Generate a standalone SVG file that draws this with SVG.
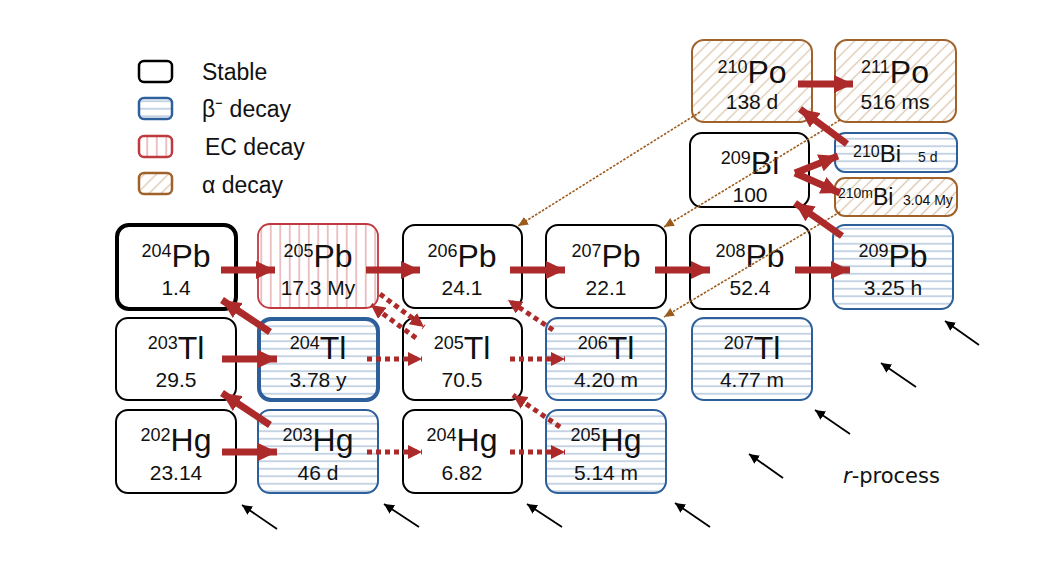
<svg xmlns="http://www.w3.org/2000/svg" width="1056" height="562" viewBox="0 0 1056 562">
<style>
text{font-family:"Liberation Sans",Arial,sans-serif;fill:#111;}
.m{font-size:32px;text-anchor:middle;}
.s{font-size:18px;}
.v{font-size:21px;text-anchor:middle;}
.lg{font-size:23px;}
.st{fill:#fff;stroke:#000;stroke-width:2;}
.bm{fill:url(#hb);stroke:#2d5f9a;stroke-width:2;}
.ec{fill:url(#hr);stroke:#c0393f;stroke-width:1.8;}
.al{fill:url(#ha);stroke:#a0622b;stroke-width:2;}
.ar{stroke:#ad2a2a;stroke-width:7;fill:none;marker-end:url(#mr);}
.dr{stroke:#ad2a2a;stroke-width:5;stroke-dasharray:5 4;fill:none;marker-end:url(#md);}
.br{stroke:#9c5a1c;stroke-width:1.6;stroke-dasharray:2.5 1.5;fill:none;marker-end:url(#mb);}
.rk{stroke:#000;stroke-width:1.8;fill:none;marker-end:url(#mk);}
</style>
<defs>
<pattern id="hb" patternUnits="userSpaceOnUse" width="20" height="7.5"><rect width="20" height="7.5" fill="#fff"/><line x1="0" y1="3.75" x2="20" y2="3.75" stroke="#a8bfd8" stroke-width="1.3"/></pattern>
<pattern id="hr" patternUnits="userSpaceOnUse" width="9.5" height="20"><rect width="9.5" height="20" fill="#fff"/><line x1="4.75" y1="0" x2="4.75" y2="20" stroke="#e3a0a7" stroke-width="1.3"/></pattern>
<pattern id="ha" patternUnits="userSpaceOnUse" width="8.5" height="20" patternTransform="rotate(45)"><rect width="8.5" height="20" fill="#fff"/><line x1="4.25" y1="0" x2="4.25" y2="20" stroke="#dcc6ae" stroke-width="1.3"/></pattern>
<marker id="mr" markerUnits="userSpaceOnUse" markerWidth="20" markerHeight="18" refX="19" refY="9" orient="auto"><path d="M0,0 L19,9 L0,18 z" fill="#ad2a2a"/></marker>
<marker id="md" markerUnits="userSpaceOnUse" markerWidth="15" markerHeight="14" refX="14" refY="7" orient="auto"><path d="M0,0 L14,7 L0,14 z" fill="#ad2a2a"/></marker>
<marker id="mb" markerUnits="userSpaceOnUse" markerWidth="11" markerHeight="9" refX="10" refY="4.5" orient="auto"><path d="M0,0 L10,4.5 L0,9 z" fill="#9c5a1c"/></marker>
<marker id="mk" markerUnits="userSpaceOnUse" markerWidth="11" markerHeight="10" refX="10" refY="5" orient="auto"><path d="M0,0 L10,5 L0,10 z" fill="#000"/></marker>
</defs>
<rect width="1056" height="562" fill="#fff"/>

<g id="legend">
<rect x="139" y="61" width="33" height="21" rx="5" fill="#fff" stroke="#000" stroke-width="2.5"/>
<rect x="139" y="98" width="33" height="21" rx="5" fill="url(#hb)" stroke="#2d5f9a" stroke-width="2.5"/>
<rect x="139" y="136" width="33" height="21" rx="5" fill="url(#hr)" stroke="#c0393f" stroke-width="2.5"/>
<rect x="139" y="173" width="33" height="21" rx="5" fill="url(#ha)" stroke="#a0622b" stroke-width="2.5"/>
<text class="lg" x="202" y="80">Stable</text>
<text class="lg" x="202" y="117">β⁻ decay</text>
<text class="lg" x="205" y="155">EC decay</text>
<text class="lg" x="202" y="193">α decay</text>
</g>

<g id="n-Po210"><rect class="al" x="692" y="40" width="120" height="82" rx="12"/><text class="m" x="752" y="83"><tspan class="s" dy="-10">210</tspan><tspan dy="10">Po</tspan></text><text class="v" x="752" y="109">138 d</text></g>
<g id="n-Po211"><rect class="al" x="835" y="40" width="121" height="82" rx="12"/><text class="m" x="895" y="83"><tspan class="s" dy="-10">211</tspan><tspan dy="10">Po</tspan></text><text class="v" x="895" y="109">516 ms</text></g>
<g id="n-Bi209"><rect class="st" x="690" y="133" width="119" height="74" rx="12"/><text class="m" x="750" y="174"><tspan class="s" dy="-10">209</tspan><tspan dy="10">Bi</tspan></text><text class="v" x="750" y="202">100</text></g>
<g id="n-Bi210"><rect class="bm" x="835" y="133" width="122" height="39" rx="10"/><text x="853" y="162" style="font-size:24px"><tspan style="font-size:16px" dy="-5">210</tspan><tspan dy="5">Bi</tspan></text><text x="918" y="162" style="font-size:14px">5 d</text></g>
<g id="n-Bi210m"><rect class="al" x="835" y="178" width="122" height="38" rx="10"/><text x="838" y="205" style="font-size:23px"><tspan style="font-size:14px" dy="-7">210m</tspan><tspan dy="7">Bi</tspan></text><text x="903" y="205" style="font-size:14px">3.04 My</text></g>

<g id="n-Pb204"><rect x="117" y="225" width="119" height="84" rx="12" fill="#fff" stroke="#000" stroke-width="4"/><text class="m" x="176" y="267"><tspan class="s" dy="-10">204</tspan><tspan dy="10">Pb</tspan></text><text class="v" x="176" y="295">1.4</text></g>
<g id="n-Pb205"><rect class="ec" x="258" y="224" width="120" height="84" rx="12"/><text class="m" x="318" y="267"><tspan class="s" dy="-10">205</tspan><tspan dy="10">Pb</tspan></text><text class="v" x="318" y="295">17.3 My</text></g>
<g id="n-Pb206"><rect class="st" x="403" y="225" width="119" height="83" rx="12"/><text class="m" x="462" y="267"><tspan class="s" dy="-10">206</tspan><tspan dy="10">Pb</tspan></text><text class="v" x="462" y="295">24.1</text></g>
<g id="n-Pb207"><rect class="st" x="546" y="225" width="120" height="83" rx="12"/><text class="m" x="606" y="267"><tspan class="s" dy="-10">207</tspan><tspan dy="10">Pb</tspan></text><text class="v" x="606" y="295">22.1</text></g>
<g id="n-Pb208"><rect class="st" x="690" y="225" width="120" height="84" rx="12"/><text class="m" x="750" y="267"><tspan class="s" dy="-10">208</tspan><tspan dy="10">Pb</tspan></text><text class="v" x="750" y="295">52.4</text></g>
<g id="n-Pb209"><rect class="bm" x="833" y="225" width="120" height="84" rx="12"/><text class="m" x="893" y="267"><tspan class="s" dy="-10">209</tspan><tspan dy="10">Pb</tspan></text><text class="v" x="893" y="295">3.25 h</text></g>

<g id="n-Tl203"><rect class="st" x="116" y="318" width="120" height="82" rx="12"/><text class="m" x="176" y="359"><tspan class="s" dy="-10">203</tspan><tspan dy="10">Tl</tspan></text><text class="v" x="176" y="387">29.5</text></g>
<g id="n-Tl204"><rect x="259" y="319" width="119" height="81" rx="12" fill="url(#hb)" stroke="#2d5f9a" stroke-width="4"/><text class="m" x="318" y="359"><tspan class="s" dy="-10">204</tspan><tspan dy="10">Tl</tspan></text><text class="v" x="318" y="387">3.78 y</text></g>
<g id="n-Tl205"><rect class="st" x="403" y="318" width="119" height="82" rx="12"/><text class="m" x="462" y="359"><tspan class="s" dy="-10">205</tspan><tspan dy="10">Tl</tspan></text><text class="v" x="462" y="387">70.5</text></g>
<g id="n-Tl206"><rect class="bm" x="546" y="318" width="120" height="82" rx="12"/><text class="m" x="606" y="359"><tspan class="s" dy="-10">206</tspan><tspan dy="10">Tl</tspan></text><text class="v" x="606" y="387">4.20 m</text></g>
<g id="n-Tl207"><rect class="bm" x="692" y="318" width="120" height="82" rx="12"/><text class="m" x="752" y="359"><tspan class="s" dy="-10">207</tspan><tspan dy="10">Tl</tspan></text><text class="v" x="752" y="387">4.77 m</text></g>

<g id="n-Hg202"><rect class="st" x="116" y="410" width="120" height="83" rx="12"/><text class="m" x="176" y="451"><tspan class="s" dy="-10">202</tspan><tspan dy="10">Hg</tspan></text><text class="v" x="176" y="480">23.14</text></g>
<g id="n-Hg203"><rect class="bm" x="258" y="410" width="120" height="83" rx="12"/><text class="m" x="318" y="451"><tspan class="s" dy="-10">203</tspan><tspan dy="10">Hg</tspan></text><text class="v" x="318" y="480">46 d</text></g>
<g id="n-Hg204"><rect class="st" x="403" y="410" width="119" height="83" rx="12"/><text class="m" x="462" y="451"><tspan class="s" dy="-10">204</tspan><tspan dy="10">Hg</tspan></text><text class="v" x="462" y="480">6.82</text></g>
<g id="n-Hg205"><rect class="bm" x="546" y="410" width="120" height="83" rx="12"/><text class="m" x="606" y="451"><tspan class="s" dy="-10">205</tspan><tspan dy="10">Hg</tspan></text><text class="v" x="606" y="480">5.14 m</text></g>

<g id="connectors">
<line class="br" x1="700" y1="112" x2="518" y2="226"/>
<line class="br" x1="840" y1="120" x2="664" y2="227"/>
<line class="br" x1="840" y1="212" x2="664" y2="317"/>

<line class="ar" x1="221" y1="270" x2="275" y2="270"/>
<line class="ar" x1="366" y1="270" x2="420" y2="270"/>
<line class="ar" x1="510" y1="270" x2="565" y2="270"/>
<line class="ar" x1="655" y1="270" x2="710" y2="270"/>
<line class="ar" x1="795" y1="270" x2="850" y2="270"/>
<line class="ar" x1="222" y1="359" x2="277" y2="359"/>
<line class="ar" x1="222" y1="452" x2="277" y2="452"/>
<line class="ar" x1="270" y1="332" x2="222" y2="300"/>
<line class="ar" x1="270" y1="425" x2="222" y2="393"/>
<line class="ar" x1="798" y1="84" x2="853" y2="84"/>
<line class="ar" x1="847" y1="144" x2="800" y2="109"/>
<line class="ar" x1="795" y1="173" x2="838" y2="156"/>
<line class="ar" x1="795" y1="173" x2="840" y2="193"/>
<line class="ar" x1="842" y1="236" x2="795" y2="203"/>

<line class="dr" x1="367" y1="359" x2="422" y2="359"/>
<line class="dr" x1="510" y1="359" x2="565" y2="359"/>
<line class="dr" x1="367" y1="452" x2="422" y2="452"/>
<line class="dr" x1="510" y1="452" x2="565" y2="452"/>
<line class="dr" x1="380" y1="294" x2="424" y2="327"/>
<line class="dr" x1="416" y1="338" x2="371" y2="305"/>
<line class="dr" x1="553" y1="330" x2="508" y2="300"/>
<line class="dr" x1="560" y1="427" x2="513" y2="395"/>

<line class="rk" x1="979" y1="345" x2="945" y2="321"/>
<line class="rk" x1="916" y1="387" x2="881" y2="363"/>
<line class="rk" x1="850" y1="434" x2="815" y2="410"/>
<line class="rk" x1="783" y1="478" x2="749" y2="454"/>
<line class="rk" x1="710" y1="527" x2="675" y2="503"/>
<line class="rk" x1="562" y1="527" x2="527" y2="504"/>
<line class="rk" x1="419" y1="527" x2="384" y2="504"/>
<line class="rk" x1="277" y1="529" x2="242" y2="505"/>
</g>
<text x="843" y="483" style="font-family:'DejaVu Sans',Verdana,sans-serif;font-size:21px"><tspan font-style="italic">r</tspan>-process</text>
</svg>
